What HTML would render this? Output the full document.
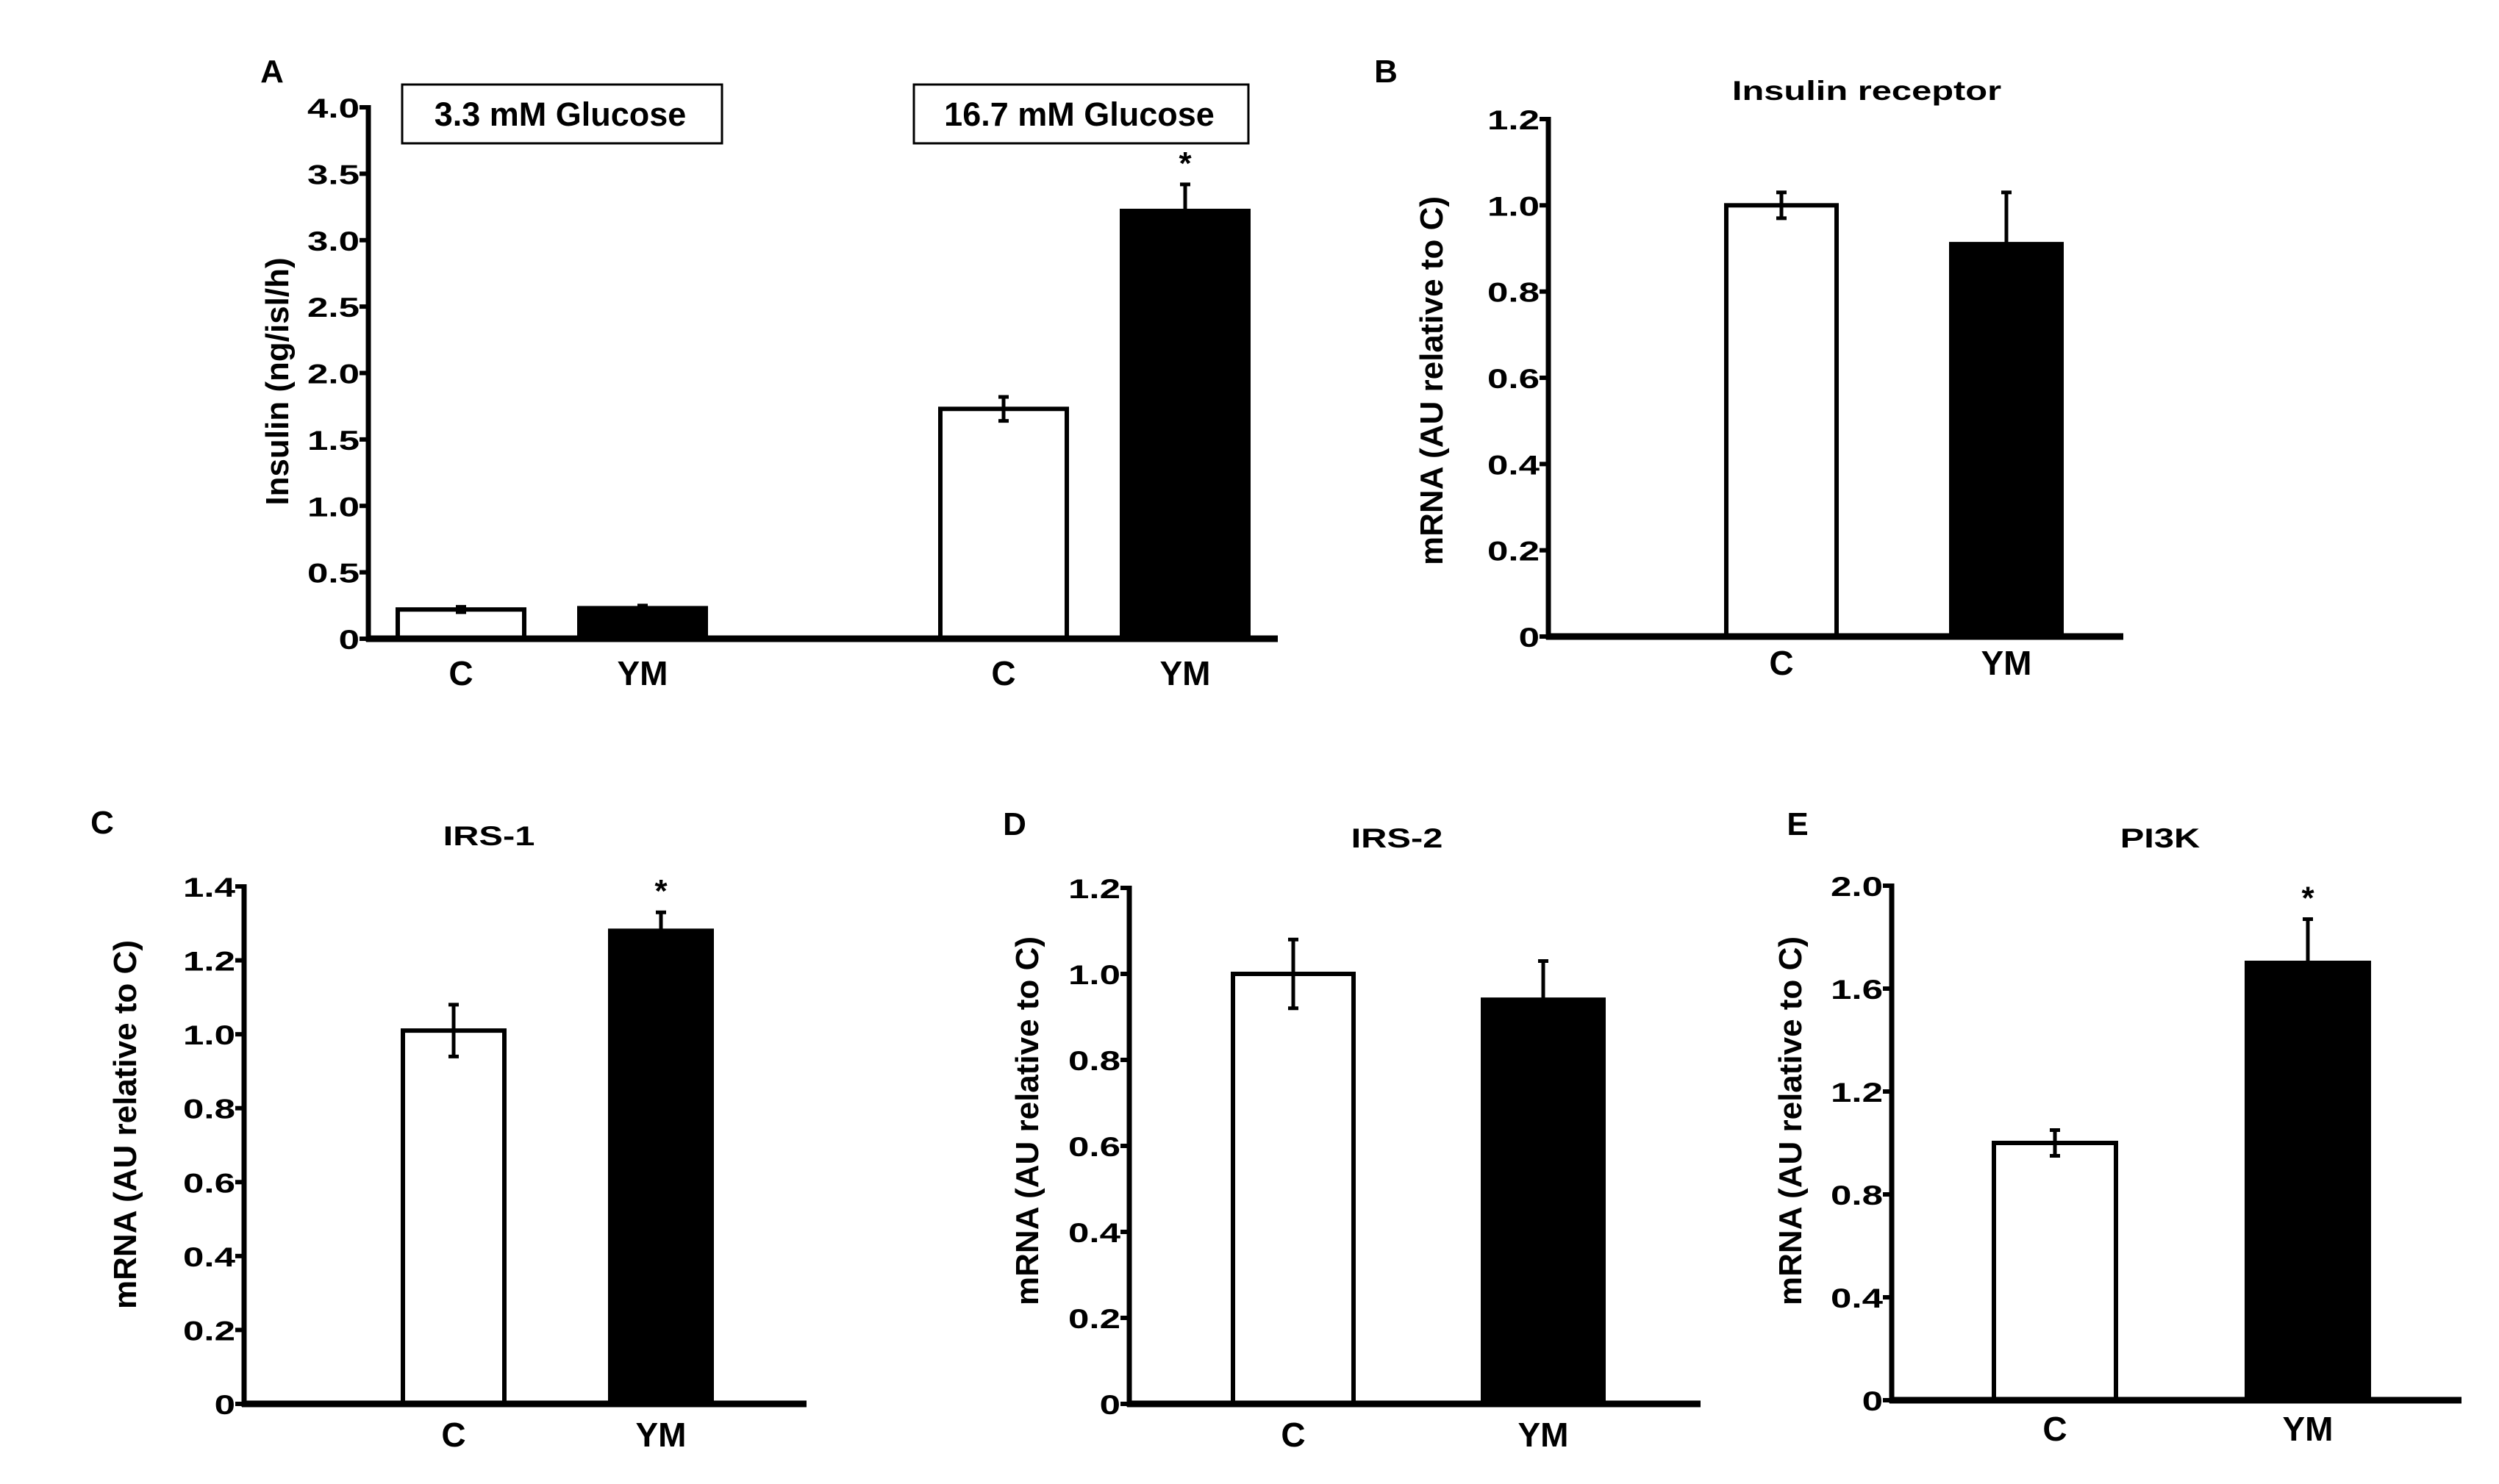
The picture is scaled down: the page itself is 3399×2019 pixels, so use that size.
<!DOCTYPE html>
<html><head><meta charset="utf-8">
<style>
html,body{margin:0;padding:0;background:#fff;}
svg{display:block;}
text{font-family:"Liberation Sans",Arial,sans-serif;font-weight:bold;fill:#000;}
.tick{font-size:37px;}
.star{font-size:44px;}
.cat{font-size:46px;}
.ytitle{font-size:44px;}
.title{font-size:37px;}
.box{font-size:45px;}
.plabel{font-size:44px;}
</style></head>
<body>
<svg id="fig" width="3399" height="2019" viewBox="0 0 3399 2019" xmlns="http://www.w3.org/2000/svg">
<rect width="3399" height="2019" fill="#fff"/>
</svg>
<script>
// ---- data ----
const aCategories = ["C","YM","C","YM"];
const aValues = [0.22, 0.23, 1.73, 3.22];
const aErrors = [0.02, 0.02, 0.09, 0.2];
const aTicks = [0, 0.5, 1.0, 1.5, 2.0, 2.5, 3.0, 3.5, 4.0];
const aTickLabels = ["0","0.5","1.0","1.5","2.0","2.5","3.0","3.5","4.0"];
const aStars = [false, false, false, true];

const bCategories = ["C","YM"];
const bValues = [1.0, 0.91];
const bErrors = [0.03, 0.12];
const bTicks = [0, 0.2, 0.4, 0.6, 0.8, 1.0, 1.2];
const bTickLabels = ["0","0.2","0.4","0.6","0.8","1.0","1.2"];
const bStars = [false, false];

const cCategories = ["C","YM"];
const cValues = [1.01, 1.28];
const cErrors = [0.07, 0.05];
const cTicks = [0, 0.2, 0.4, 0.6, 0.8, 1.0, 1.2, 1.4];
const cTickLabels = ["0","0.2","0.4","0.6","0.8","1.0","1.2","1.4"];
const cStars = [false, true];

const dCategories = ["C","YM"];
const dValues = [1.0, 0.94];
const dErrors = [0.08, 0.09];
const dTicks = [0, 0.2, 0.4, 0.6, 0.8, 1.0, 1.2];
const dTickLabels = ["0","0.2","0.4","0.6","0.8","1.0","1.2"];
const dStars = [false, false];

const eCategories = ["C","YM"];
const eValues = [1.0, 1.7];
const eErrors = [0.05, 0.17];
const eTicks = [0, 0.4, 0.8, 1.2, 1.6, 2.0];
const eTickLabels = ["0","0.4","0.8","1.2","1.6","2.0"];
const eStars = [false, true];

const NS = "http://www.w3.org/2000/svg";
const svg = document.getElementById('fig');
function mk(tag, attrs, parent){
  const e = document.createElementNS(NS, tag);
  for (const k in attrs) e.setAttribute(k, attrs[k]);
  (parent||svg).appendChild(e);
  return e;
}
function txt(str, x, y, cls, parent, anchor, sx){
  const t = mk('text', {x:0, y:0, class:cls, 'text-anchor':anchor||'middle',
    transform:'translate(' + x + ',' + y + ') scale(' + (sx||1) + ',1)'}, parent);
  t.textContent = str;
  return t;
}

function drawPanel(p, cats, vals, errs, ticks, tickLabels, stars){
  const g = mk('g', {});
  
  
  const yMax = ticks[ticks.length-1];
  const yScale = v => p.y0 - (v / yMax) * (p.y0 - p.yTop);
  const pl = txt(p.letter, p.letterX, p.letterY, 'plabel', g);
  
  
  if (p.title){
    const tt = txt(p.title, p.titleX, p.titleY, 'title', g, 'middle', 1.32);
    
    
  }
  const yt = mk('text', {x:0, y:0, class:'ytitle', 'text-anchor':'middle',
    transform:'translate(' + p.ytX + ',' + p.ytY + ') rotate(-90)'}, g);
  yt.textContent = p.ytitle;
  
  
  for (let i = 0; i < vals.length; i++){
    const x1 = p.barX[i], w = p.barW;
    const yv = yScale(vals[i]);
    const black = (i % 2) === 1;
    const bar = mk('rect', {x:x1+3, y:yv, width:w-6, height:p.y0-yv,
      fill: black ? '#000' : '#fff', stroke:'#000', 'stroke-width':6}, g);
    
    
    const cx = x1 + w/2;
    const yHi = yScale(vals[i] + errs[i]);
    const yLo = black ? yv : yScale(vals[i] - errs[i]);
    const eb = mk('path', {d:'M'+cx+','+yLo+' L'+cx+','+yHi+' M'+(cx-7)+','+yHi+' L'+(cx+7)+','+yHi+
      (black ? '' : ' M'+(cx-7)+','+yLo+' L'+(cx+7)+','+yLo),
      stroke:'#000', 'stroke-width':5, fill:'none'}, g);
    
    
    if (stars[i]){
      const st = txt('*', cx, yHi - 14, 'star', g);
      
      
    }
    const cl = txt(cats[i], cx, p.catY, 'cat', g);
    
    
  }
  const ya = mk('line', {x1:p.x0, y1:yScale(yMax)-3, x2:p.x0, y2:p.y0+4, stroke:'#000', 'stroke-width':7}, g);
  
  
  const xa = mk('line', {x1:p.x0-3, y1:p.y0, x2:p.xEnd, y2:p.y0, stroke:'#000', 'stroke-width':9}, g);
  
  
  for (let i = 0; i < ticks.length; i++){
    const y = yScale(ticks[i]);
    const tk = mk('line', {x1:p.x0-12, y1:y, x2:p.x0, y2:y, stroke:'#000', 'stroke-width':6}, g);
    
    
    const tl = txt(tickLabels[i], p.x0 - 12, y + 14, 'tick', g, 'end', 1.38);
    
    
  }
  return g;
}

// Panel A
const gA = drawPanel({id:'a', letter:'A', letterX:370, letterY:112, ytitle:'Insulin  (ng/isl/h)', ytX:392, ytY:519,
  x0:501, y0:869, yTop:146, xEnd:1738, barX:[538,785,1276,1523], barW:178, catY:932},
  aCategories, aValues, aErrors, aTicks, aTickLabels, aStars);
const box1 = mk('rect', {x:547, y:115, width:435, height:80, fill:'#fff', stroke:'#000', 'stroke-width':3}, gA);


const bt1 = txt('3.3 mM Glucose', 762, 171, 'box', gA);


const box2 = mk('rect', {x:1243, y:115, width:455, height:80, fill:'#fff', stroke:'#000', 'stroke-width':3}, gA);


const bt2 = txt('16.7 mM Glucose', 1468, 171, 'box', gA);



// Panel B
drawPanel({id:'b', letter:'B', letterX:1885, letterY:112, title:'Insulin  receptor', titleX:2539, titleY:136,
  ytitle:'mRNA  (AU relative to C)', ytX:1962, ytY:518,
  x0:2106, y0:866, yTop:162, xEnd:2888, barX:[2345,2651], barW:156, catY:918},
  bCategories, bValues, bErrors, bTicks, bTickLabels, bStars);

// Panel C
drawPanel({id:'c', letter:'C', letterX:139, letterY:1134, title:'IRS-1', titleX:665, titleY:1150,
  ytitle:'mRNA  (AU relative to C)', ytX:185, ytY:1530,
  x0:332, y0:1910, yTop:1206, xEnd:1097, barX:[545,827], barW:144, catY:1968},
  cCategories, cValues, cErrors, cTicks, cTickLabels, cStars);

// Panel D
drawPanel({id:'d', letter:'D', letterX:1380, letterY:1136, title:'IRS-2', titleX:1900, titleY:1153,
  ytitle:'mRNA  (AU relative to C)', ytX:1412, ytY:1525,
  x0:1536, y0:1910, yTop:1208, xEnd:2313, barX:[1674,2014], barW:170, catY:1968},
  dCategories, dValues, dErrors, dTicks, dTickLabels, dStars);

// Panel E
drawPanel({id:'e', letter:'E', letterX:2445, letterY:1136, title:'PI3K', titleX:2938, titleY:1153,
  ytitle:'mRNA  (AU relative to C)', ytX:2450, ytY:1525,
  x0:2573, y0:1905, yTop:1205, xEnd:3348, barX:[2709,3053], barW:172, catY:1960},
  eCategories, eValues, eErrors, eTicks, eTickLabels, eStars);
</script>
</body></html>
